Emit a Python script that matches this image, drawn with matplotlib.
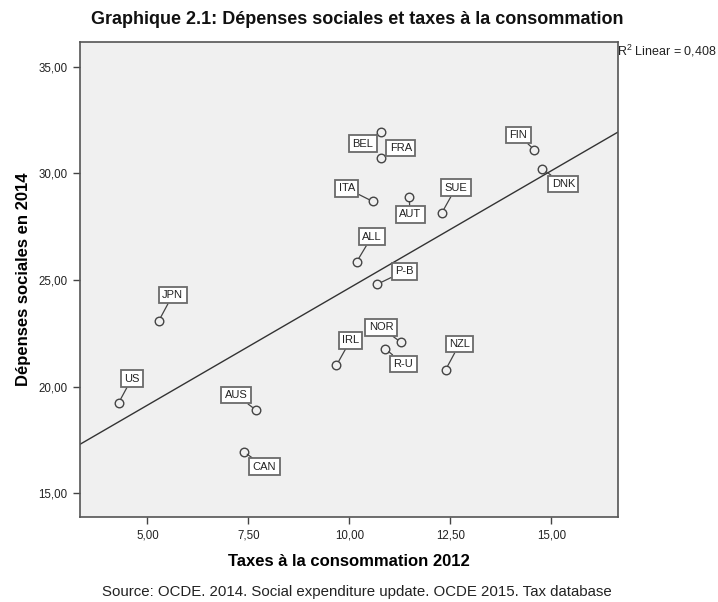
import numpy as np
import matplotlib
matplotlib.use("Agg")
import matplotlib.pyplot as plt
from matplotlib.ticker import FuncFormatter

plt.rcParams['font.family'] = ['Liberation Sans', 'DejaVu Sans']
plt.rcParams['mathtext.fontset'] = 'custom'
plt.rcParams['mathtext.rm'] = 'Liberation Sans'

# Data: consumption taxes 2012 (% GDP) vs social spending 2014 (% GDP)
countries = ["BEL", "FRA", "FIN", "DNK", "ITA", "AUT", "SUE", "ALL", "P-B",
             "JPN", "US", "AUS", "CAN", "IRL", "NOR", "R-U", "NZL"]
taxes = [10.78, 10.78, 14.58, 14.78, 10.58, 11.48, 12.29, 10.18, 10.69,
         5.28, 4.29, 7.69, 7.38, 9.68, 11.28, 10.89, 12.38]
depenses = [31.95, 30.72, 31.10, 30.20, 28.68, 28.88, 28.15, 25.85, 24.80,
            23.08, 19.25, 18.90, 16.95, 21.00, 22.07, 21.77, 20.78]
# label offsets (pixels) from each point
label_dx = [-18, 20, -16, 21, -26, 1, 14, 15, 27, 14, 13, -20, 21, 14, -20, 18, 14]
label_dy = [-12, 10, 15, -15, 13, -17, 25, 25, 13, 26, 24, 15, -15, 25, 15, -15, 26]

xticks = [5.0, 7.5, 10.0, 12.5, 15.0]
yticks = [15.0, 20.0, 25.0, 30.0, 35.0]

fig = plt.figure(figsize=(7.18, 6.02), dpi=100)
ax = fig.add_axes([0.1114, 0.1417, 0.7493, 0.7890])
ax.set_facecolor("#f0f0f0")

ax.set_xlim(3.33, 16.65)
ax.set_ylim(13.9, 36.17)

# fit line
slope, intercept = np.polyfit(taxes, depenses, 1)
xs = np.array(ax.get_xlim())
ax.plot(xs, slope * xs + intercept, color="#333333", lw=1.0, zorder=2)

ax.scatter(taxes, depenses, s=38, facecolors="#f0f0f0", edgecolors="#444444",
           linewidths=1.0, zorder=3)

for name, x, y, dx, dy in zip(countries, taxes, depenses, label_dx, label_dy):
    ax.annotate(name, (x, y), xytext=(dx, dy), textcoords="offset pixels",
                ha="center", va="center", fontsize=8, color="#222222",
                bbox=dict(boxstyle="square,pad=0.3", fc="white", ec="#6a6a6a", lw=1.3),
                arrowprops=dict(arrowstyle="-", color="#444444", lw=0.9,
                                shrinkA=0, shrinkB=3.2),
                zorder=4)

ax.set_xticks(xticks)
ax.set_yticks(yticks)
fmt = FuncFormatter(lambda v, p: f"{v:.2f}".replace(".", ","))
ax.xaxis.set_major_formatter(fmt)
ax.yaxis.set_major_formatter(fmt)
ax.tick_params(direction="out", length=5, width=1, color="#444444",
               labelsize=8.3, labelcolor="#222222", pad=4)
for s in ax.spines.values():
    s.set_color("#555555")
    s.set_linewidth(1.2)

ax.set_xlabel("Taxes à la consommation 2012", fontsize=12, fontweight="bold",
              labelpad=9)
ax.set_ylabel("Dépenses sociales en 2014", fontsize=12, fontweight="bold",
              labelpad=5)

fig.text(0.497, 0.968, "Graphique 2.1: Dépenses sociales et taxes à la consommation",
         ha="center", va="center", fontsize=13, fontweight="bold", color="#111111")
fig.text(0.859, 0.915, r"R$^{2}$ Linear = 0,408", ha="left", va="center",
         fontsize=9, color="#222222")
fig.text(0.497, 0.016, "Source: OCDE. 2014. Social expenditure update. OCDE 2015. Tax database",
         ha="center", va="center", fontsize=10.8, color="#222222")

fig.savefig("out.png", dpi=100)
